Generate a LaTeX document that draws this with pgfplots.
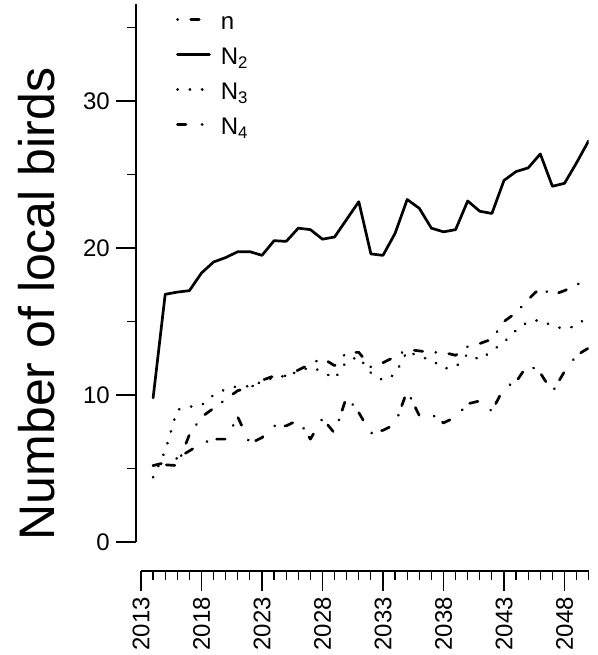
\documentclass[border=0pt]{standalone}
\usepackage{fontspec}
\setmainfont{Liberation Sans}
\usepackage{pgfplots}
\usepackage{pgfplotstable}
\pgfplotsset{compat=1.18}

\pgfplotstableread{
year n N2 N3 N4
2014 5.2 9.8 4.4 5.2
2015 5.25 16.85 6.2 5.4
2016 5.2 17.0 9.0 5.7
2017 7.3 17.1 9.2 6.2
2018 8.5 18.3 9.3 6.7
2019 9.1 19.05 10.0 7.0
2020 9.7 19.35 10.4 7.0
2021 10.3 19.75 10.6 8.5
2022 10.5 19.75 10.6 6.7
2023 11.0 19.5 10.9 7.1
2024 11.3 20.5 11.2 7.9
2025 11.3 20.45 11.3 7.9
2026 11.7 21.35 11.6 8.3
2027 12.1 21.25 11.9 7.0
2028 12.5 20.6 11.6 8.4
2029 12.0 20.75 11.1 7.4
2030 12.9 21.95 12.3 9.9
2031 12.9 23.15 12.6 8.8
2032 11.9 19.6 11.5 7.4
2033 12.2 19.5 11.0 7.6
2034 12.6 21.0 11.4 8.0
2035 13.1 23.3 13.0 10.3
2036 13.0 22.7 12.6 8.6
2037 12.9 21.35 12.4 8.7
2038 12.9 21.1 11.8 8.1
2039 12.7 21.25 11.9 8.5
2040 13.3 23.2 12.8 9.4
2041 13.5 22.5 12.4 9.6
2042 13.8 22.35 13.0 8.9
2043 15.0 24.6 13.6 10.5
2044 15.6 25.2 14.4 10.9
2045 16.5 25.45 15.0 12.1
2046 17.3 26.4 15.1 11.5
2047 16.8 24.2 14.7 10.2
2048 17.1 24.4 14.5 11.6
2049 17.5 25.8 14.7 12.7
2050 17.9 27.3 15.4 13.2
}\birds

\begin{document}
\begin{tikzpicture}
\useasboundingbox (-141pt,-113pt) rectangle (456pt,542pt);
\begin{axis}[
  at={(0pt,0pt)}, anchor=south west,
  scale only axis, width=447.7pt, height=538pt,
  xmin=2013, xmax=2050, ymin=0, ymax=36.6,
  axis lines=left,
  axis line style={-, line width=1.2pt},
  axis x line shift=29pt,
  axis y line shift=5pt,
  tick align=outside,
  major tick length=20pt, minor tick length=9pt,
  every tick/.style={black, line width=1.2pt},
  xtick={2013,2018,...,2048},
  minor xtick={2013,...,2050},
  ytick={0,10,20,30},
  minor ytick={5,15,25,35},
  /pgf/number format/1000 sep={},
  /pgf/number format/assume math mode=true,
  tick label style={font=\fontsize{24}{24}\selectfont},
  xticklabel style={rotate=90, anchor=east, inner sep=0pt, xshift=-6pt},
  yticklabel style={anchor=east, inner sep=0pt, xshift=-6pt},
  ylabel={Number of local birds},
  ylabel style={at={(rel axis cs:-0.2323,0.4424)}, anchor=center, rotate=0, font=\fontsize{50}{50}\selectfont},
  legend style={draw=none, fill=none, at={(rel axis cs:0.078,0.98)}, anchor=north west,
    row sep=16pt, column sep=10pt, inner sep=0pt, font=\fontsize{24}{24}\selectfont,
    nodes={inner sep=0pt, text height=15pt, text depth=4pt, font=\fontsize{24}{24}\selectfont}},
  legend cell align=left,
  legend image code/.code={\draw[#1] (0pt,5pt) -- (32pt,5pt);},
]
\addplot[black, line width=2.7pt, line cap=round, line join=round, dash pattern=on 0.3pt off 13pt on 8.5pt off 13pt] table[x=year, y=n] {\birds};
\addlegendentry{n}
\addplot[black, line width=2.7pt, line cap=round, line join=round] table[x=year, y=N2] {\birds};
\addlegendentry{N\textsubscript{2}}
\addplot[black, line width=2.7pt, line cap=round, line join=round, dash pattern=on 0.3pt off 12pt] table[x=year, y=N3] {\birds};
\addlegendentry{N\textsubscript{3}}
\addplot[black, line width=2.7pt, line cap=round, line join=round, dash pattern=on 8.5pt off 16pt on 0.3pt off 10pt] table[x=year, y=N4] {\birds};
\addlegendentry{N\textsubscript{4}}
\end{axis}
\end{tikzpicture}
\end{document}
